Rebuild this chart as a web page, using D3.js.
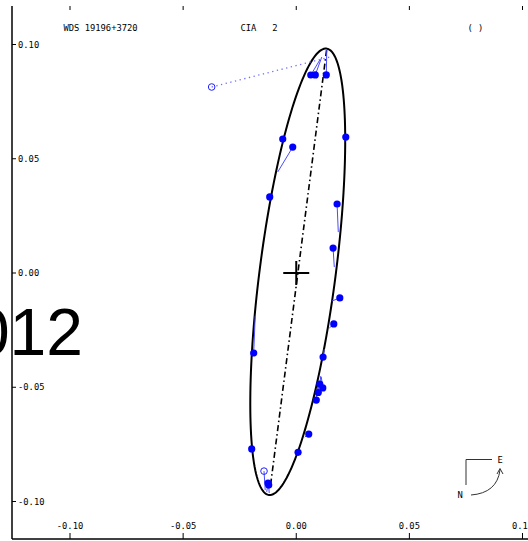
<!DOCTYPE html>
<html><head><meta charset="utf-8">
<script src="https://cdn.jsdelivr.net/npm/d3@7"></script>
<style>
html,body{margin:0;padding:0;background:#fff;}
svg{display:block;}
text{font-family:"DejaVu Sans Mono",monospace;}
</style></head>
<body>
<svg id="c" width="528" height="541"></svg>
<script>
// ---- data (arcsec) ----
const xTicks = [-0.10, -0.05, 0.00, 0.05, 0.10];
const yTicks = [0.10, 0.05, 0.00, -0.05, -0.10];
const tickLabels = ["-0.10", "-0.05", "0.00", "0.05", "0.10"];
const yTickLabels = ["0.10", "0.05", "0.00", "-0.05", "-0.10"];

// observed positions
const obsX = [0.00642, 0.00841, 0.01327, -0.00597, -0.00155, 0.0219, -0.01173, 0.01805, 0.01628, 0.01925, 0.01659, 0.01186, 0.0104, 0.01173, 0.00973, 0.00885, 0.00553, 0.0008, -0.01969, -0.01881, -0.01248, -0.01217, -0.01425, -0.03739];
const obsY = [0.08665, 0.0867, 0.0867, 0.0586, 0.0551, 0.0595, 0.0333, 0.0302, 0.0109, -0.0109, -0.0223, -0.0368, -0.0486, -0.0503, -0.0523, -0.0556, -0.0705, -0.0785, -0.077, -0.035, -0.0919, -0.0928, -0.0867, 0.0814];
// computed positions on the orbit
const calcX = [0.0104, 0.01128, 0.0135, -0.00575, -0.00819, 0.02146, -0.01128, 0.01858, 0.01681, 0.01571, 0.0146, 0.01239, 0.01084, 0.01106, 0.01018, 0.00951, 0.00376, 0.00044, -0.01969, -0.01814, -0.01305, -0.01195, -0.01372, 0.01482];
const calcY = [0.0932, 0.0945, 0.0976, 0.0593, 0.0442, 0.0578, 0.0344, 0.0179, 0.0026, -0.0123, -0.0241, -0.0333, -0.0451, -0.0455, -0.0473, -0.049, -0.0718, -0.0792, -0.0757, -0.0188, -0.0958, -0.0963, -0.0950, 0.0945];
// 1 = filled (micrometric/interferometric), 0 = open, 2 = open with dotted O-C
const obsKind = [1,1,1,1,1,1,1,1,1,1,1,1,1,1,1,1,1,1,1,1,1,1,0,2];

// apparent orbit ellipse
const ellCenter = [0.00066, 0.00053];
const ellA = 0.0985, ellB = 0.0168, ellTiltDeg = 7.44;
// line of nodes endpoints
const nodeX = [0.0134, -0.0115];
const nodeY = [0.0975, -0.0939];

const title1 = "WDS 19196+3720", title2 = "CIA   2", title3 = "( )";
const yearLabel = "2012";

// ---- drawing ----
const svg = d3.select("#c");
const x = d3.scaleLinear().domain([-0.1, 0.1]).range([70, 522.5]);
const y = d3.scaleLinear().domain([0.1, -0.1]).range([44.5, 501.5]);
const left = 12, bottom = 539;

// big year label
svg.append("text").attr("x", 83).attr("y", 355).attr("text-anchor", "end")
  .style("font-family", "'Liberation Sans', Arial, sans-serif").style("font-size", "66px")
  .attr("fill", "#000").text(yearLabel);

// frame
svg.append("line").attr("x1", left).attr("x2", left).attr("y1", 6).attr("y2", bottom).attr("stroke", "#000").attr("stroke-width", 1.5);
svg.append("line").attr("x1", left).attr("x2", 528).attr("y1", bottom).attr("y2", bottom).attr("stroke", "#000").attr("stroke-width", 1.5);

// x ticks (bottom and top)
xTicks.forEach((v, i) => {
  svg.append("line").attr("x1", x(v)).attr("x2", x(v)).attr("y1", bottom - 6).attr("y2", bottom).attr("stroke", "#000");
  svg.append("line").attr("x1", x(v)).attr("x2", x(v)).attr("y1", 6).attr("y2", 10).attr("stroke", "#000");
  svg.append("text").attr("x", x(v)).attr("y", 528.5).attr("text-anchor", "middle")
    .style("font-size", "8.8px").attr("fill", "#000").text(tickLabels[i]);
});
// y ticks
yTicks.forEach((v, i) => {
  svg.append("line").attr("x1", left).attr("x2", left + 4).attr("y1", y(v)).attr("y2", y(v)).attr("stroke", "#000");
  svg.append("text").attr("x", 18).attr("y", y(v) + 3.2)
    .style("font-size", "8.8px").attr("fill", "#000").text(yTickLabels[i]);
});

// header
[[title1, 63.5], [title2, 240.5], [title3, 467.5]].forEach(([t, px]) => {
  svg.append("text").attr("x", px).attr("y", 31).attr("xml:space", "preserve")
    .style("white-space", "pre").style("font-size", "8.8px").attr("fill", "#000").text(t);
});

// ellipse
const tilt = ellTiltDeg * Math.PI / 180;
const ellPts = d3.range(0, 361, 2).map(d => {
  const t = d * Math.PI / 180;
  return [ellCenter[0] + ellA * Math.cos(t) * Math.sin(tilt) + ellB * Math.sin(t) * Math.cos(tilt),
          ellCenter[1] + ellA * Math.cos(t) * Math.cos(tilt) - ellB * Math.sin(t) * Math.sin(tilt)];
});
const line = d3.line().x(d => x(d[0])).y(d => y(d[1])).curve(d3.curveLinearClosed);
svg.append("path").attr("d", line(ellPts)).attr("fill", "none").attr("stroke", "#000").attr("stroke-width", 2);

// line of nodes
svg.append("line").attr("x1", x(nodeX[0])).attr("y1", y(nodeY[0])).attr("x2", x(nodeX[1])).attr("y2", y(nodeY[1]))
  .attr("stroke", "#000").attr("stroke-width", 1.6).attr("stroke-dasharray", "6,3,1.5,3");

// primary cross
svg.append("line").attr("x1", x(0) - 13).attr("x2", x(0) + 13).attr("y1", y(0)).attr("y2", y(0)).attr("stroke", "#000").attr("stroke-width", 2);
svg.append("line").attr("x1", x(0)).attr("x2", x(0)).attr("y1", y(0) - 12).attr("y2", y(0) + 12).attr("stroke", "#000").attr("stroke-width", 2);

// O-C lines
obsX.forEach((v, i) => {
  const l = svg.append("line").attr("x1", x(v)).attr("y1", y(obsY[i])).attr("x2", x(calcX[i])).attr("y2", y(calcY[i]))
    .attr("stroke", obsKind[i] === 2 ? "#7070ff" : "#4a4aff").attr("stroke-width", obsKind[i] === 2 ? 1.3 : 1);
  if (obsKind[i] === 2) l.attr("stroke-dasharray", "1.3,3.5");
});
// observation markers
obsX.forEach((v, i) => {
  if (obsKind[i] === 1) {
    svg.append("circle").attr("cx", x(v)).attr("cy", y(obsY[i])).attr("r", 3.6).attr("fill", "#0000ff");
  } else {
    svg.append("circle").attr("cx", x(v)).attr("cy", y(obsY[i])).attr("r", 3.3).attr("fill", "none").attr("stroke", "#2020ff").attr("stroke-width", 1);
  }
});

// compass
const cg = svg.append("g").attr("stroke", "#333").attr("fill", "none").attr("stroke-width", 1);
cg.append("path").attr("d", "M492,459.5 H466 V485");
cg.append("path").attr("d", "M471,495 Q497,493 500,470");
cg.append("path").attr("d", "M497,474 L500,468.5 L503,474");
svg.append("text").attr("x", 497.5).attr("y", 462.5).style("font-size", "8.8px").attr("fill", "#000").text("E");
svg.append("text").attr("x", 457.5).attr("y", 498).style("font-size", "8.8px").attr("fill", "#000").text("N");
</script>
</body></html>
